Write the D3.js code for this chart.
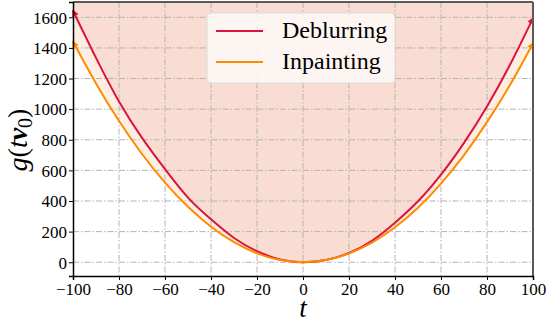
<!DOCTYPE html>
<html>
<head>
<meta charset="utf-8">
<script src="https://cdn.jsdelivr.net/npm/d3@7"></script>
<style>
  body { margin: 0; background: #fff; }
  svg { display: block; }
</style>
</head>
<body>
<svg id="chart" width="548" height="322"></svg>
<script>
// values
const tValues = [-100,-90,-80,-70,-60,-50,-40,-30,-20,-10,0,10,20,30,40,50,60,70,80,90,100]
const deblurring = [1643,1335,1050,812,608,422,280,158,72,18,0,14,60,140,258,398,572,780,1018,1290,1594]
const inpainting = [1441,1168,923,707,520,362,232,131,58,14,0,14,57,128,228,356,514,700,915,1158,1430]
const xTicks = [-100,-80,-60,-40,-20,0,20,40,60,80,100]
const yTicks = [0,200,400,600,800,1000,1200,1400,1600]
const seriesNames = ['Deblurring','Inpainting']
const seriesColors = ['#dc143c','#ff8c00']

const FONT = 'Liberation Serif'
const svg = d3.select('#chart')
const mLeft = 73, mRight = 533, mTop = 2, mBottom = 276

const x = d3.scaleLinear().domain([-100,100]).range([mLeft,mRight])
const y = d3.scaleLinear().domain([-90,1700]).range([mBottom,mTop])

const defs = svg.append('defs')
defs.append('clipPath').attr('id','plotclip')
    .append('rect').attr('x',mLeft).attr('y',mTop).attr('width',mRight-mLeft).attr('height',mBottom-mTop)

const plot = svg.append('g').attr('clip-path','url(#plotclip)')

const dIn = tValues.map((t,i)=>({t:t, v:inpainting[i]}))
const dDe = tValues.map((t,i)=>({t:t, v:deblurring[i]}))

// shaded regions above each curve
const area = d3.area().x(d=>x(d.t)).y0(mTop).y1(d=>y(d.v)).curve(d3.curveNatural)
plot.append('path').datum(dIn).attr('d',area).attr('fill','#fdeee3')
plot.append('path').datum(dDe).attr('d',area).attr('fill','#f9dcd2')

// grid
const gridStyle = g => g.attr('stroke','#b4b4b4').attr('stroke-width',1)
    .attr('stroke-dasharray','6,2,1.5,2')
plot.append('g').call(gridStyle).selectAll('line').data(xTicks).join('line')
    .attr('x1',d=>x(d)).attr('x2',d=>x(d)).attr('y1',mTop).attr('y2',mBottom)
plot.append('g').call(gridStyle).selectAll('line').data(yTicks).join('line')
    .attr('x1',mLeft).attr('x2',mRight).attr('y1',d=>y(d)).attr('y2',d=>y(d))

// arrow markers at curve ends
seriesColors.forEach((c,i)=>{
    defs.append('marker').attr('id','arr'+i)
        .attr('viewBox','0 0 10 10').attr('refX',8).attr('refY',5)
        .attr('markerWidth',3.5).attr('markerHeight',3.5)
        .attr('orient','auto-start-reverse')
        .append('path').attr('d','M0,0 L10,5 L0,10 z').attr('fill',c)
})

const line = d3.line().x(d=>x(d.t)).y(d=>y(d.v)).curve(d3.curveNatural)
;[dDe, dIn].forEach((d,i)=>{
    svg.append('path').datum(d).attr('d',line)
        .attr('fill','none').attr('stroke',seriesColors[i]).attr('stroke-width',2)
        .attr('marker-start','url(#arr'+i+')').attr('marker-end','url(#arr'+i+')')
})

// spines
svg.append('line').attr('x1',mLeft).attr('x2',mRight).attr('y1',mTop).attr('y2',mTop)
    .attr('stroke','#5a5a5a').attr('stroke-width',2)
svg.append('line').attr('x1',mRight).attr('x2',mRight).attr('y1',mTop).attr('y2',mBottom)
    .attr('stroke','#5a5a5a').attr('stroke-width',2)

// axes
const fmt = d => d < 0 ? '\u2212' + Math.abs(d) : String(d)
const xAxis = d3.axisBottom(x).tickValues(xTicks).tickFormat(fmt).tickSize(4).tickPadding(3)
const yAxis = d3.axisLeft(y).tickValues(yTicks).tickFormat(fmt).tickSize(4).tickPadding(2)

const gx = svg.append('g').attr('transform',`translate(0,${mBottom})`).call(xAxis)
const gy = svg.append('g').attr('transform',`translate(${mLeft},0)`).call(yAxis)
;[gx,gy].forEach(g=>{
    g.attr('font-family',FONT).attr('font-size',17)
    g.select('.domain').attr('stroke','#000').attr('stroke-width',1.5)
    g.selectAll('.tick line').attr('stroke','#000').attr('stroke-width',1)
    g.selectAll('.tick text').attr('font-family',FONT).attr('font-size',17).attr('fill','#000')
})
gy.selectAll('.tick text').attr('dy','0.34em')

// axis labels
svg.append('text').attr('x',x(0)).attr('y',317).attr('text-anchor','middle')
    .attr('font-family',FONT).attr('font-size',27).attr('font-style','italic').text('t')

const yl = svg.append('text').attr('transform','translate(27,140) rotate(-90)')
    .attr('font-family',FONT).attr('text-anchor','middle').attr('font-size',28)
yl.append('tspan').attr('font-style','italic').text('g')
yl.append('tspan').text('(')
yl.append('tspan').attr('font-style','italic').text('t')
yl.append('tspan').attr('font-style','italic').attr('font-weight','bold').text('v')
yl.append('tspan').attr('font-size',20).attr('dy',5).text('0')
yl.append('tspan').attr('dy',-5).text(')')

// legend
const lg = svg.append('g')
lg.append('rect').attr('x',207).attr('y',13).attr('width',188).attr('height',70)
    .attr('rx',4).attr('fill','#fdf7f4').attr('fill-opacity',0.9)
    .attr('stroke','#dcdcdc').attr('stroke-width',1)
seriesNames.forEach((name,i)=>{
    const yy = 31 + i*31
    lg.append('line').attr('x1',216).attr('x2',263).attr('y1',yy).attr('y2',yy)
        .attr('stroke',seriesColors[i]).attr('stroke-width',2)
    lg.append('text').attr('x',282).attr('y',yy+7).attr('font-family',FONT)
        .attr('font-size',24).text(name)
})
</script>
</body>
</html>
